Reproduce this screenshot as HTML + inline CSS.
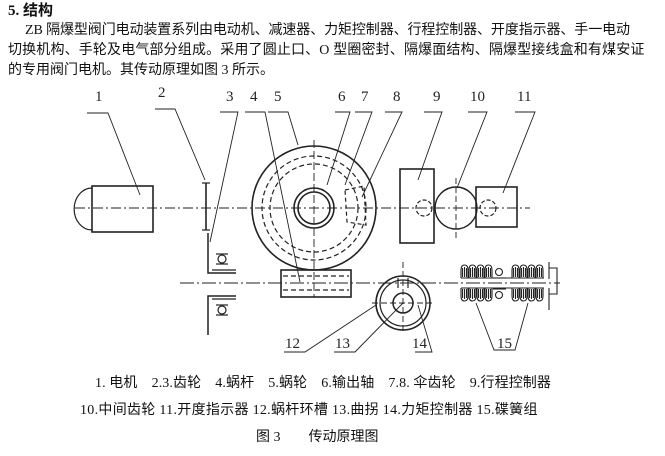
<!DOCTYPE html>
<html><head><meta charset="utf-8"><style>
body{margin:0;width:665px;height:456px;background:#fff;position:relative;overflow:hidden;font-family:"Liberation Serif","Noto Sans CJK SC",serif;color:#111}
.t{position:absolute;white-space:nowrap;font-size:14px;line-height:20px}
svg{position:absolute;left:0;top:0}
svg text{font-family:"Liberation Serif",serif;font-size:15px;fill:#222}
</style></head><body>
<div class="t" style="left:8px;top:1px;font-weight:bold;font-size:15px">5. 结构</div>
<div class="t" style="left:25px;top:21px;letter-spacing:-0.1px">ZB 隔爆型阀门电动装置系列由电动机、减速器、力矩控制器、行程控制器、开度指示器、手一电动</div>
<div class="t" style="left:8px;top:41px;letter-spacing:0.15px">切换机构、手轮及电气部分组成。采用了圆止口、O 型圈密封、隔爆面结构、隔爆型接线盒和有煤安证</div>
<div class="t" style="left:8px;top:61px">的专用阀门电机。其传动原理如图 3 所示。</div>
<svg width="665" height="456" viewBox="0 0 665 456" fill="none" stroke="#222" stroke-width="1.2">
<defs>
<g id="bt"><path d="M0 14 L0 6 Q0 1 3.5 1 Q7 1 7 6 L7 14"/><line x1="1.5" y1="4" x2="1.5" y2="13"/><line x1="3.5" y1="3" x2="3.5" y2="13"/><line x1="5.5" y1="4" x2="5.5" y2="13"/></g>
<g id="bb"><path d="M0 0 L0 8 Q0 13 3.5 13 Q7 13 7 8 L7 0"/><line x1="1.5" y1="1" x2="1.5" y2="10"/><line x1="3.5" y1="1" x2="3.5" y2="11"/><line x1="5.5" y1="1" x2="5.5" y2="10"/></g>
</defs>
<g stroke="#222">
<line x1="75" y1="208" x2="530" y2="208" stroke-dasharray="10,3,2,3" stroke-width="0.9"/>
<line x1="180" y1="283" x2="560" y2="283" stroke-dasharray="14,3,2,3" stroke-width="0.9"/>
<path d="M92 188 A17 20 0 0 0 92 230"/>
<rect x="92" y="186" width="61" height="46" stroke-width="1.6"/>
<line x1="206" y1="183" x2="206" y2="230" stroke-width="1.6"/>
<line x1="202" y1="183" x2="210" y2="183"/><line x1="202" y1="230" x2="210" y2="230"/>
<polyline points="208,233 208,273 236,273" stroke-width="1.5"/>
<line x1="212" y1="270" x2="236" y2="270"/>
<circle cx="222" cy="259" r="4"/><line x1="216" y1="264" x2="228" y2="264"/><line x1="216" y1="254" x2="228" y2="254"/>
<polyline points="208,335 208,296 236,296" stroke-width="1.5"/>
<line x1="212" y1="299" x2="236" y2="299"/>
<circle cx="222" cy="310" r="4"/><line x1="216" y1="305" x2="228" y2="305"/><line x1="216" y1="315" x2="228" y2="315"/>
<circle cx="314" cy="208" r="62" stroke-width="1.6"/>
<circle cx="314" cy="208" r="52" stroke-dasharray="5,3"/>
<circle cx="314" cy="208" r="44" stroke-dasharray="5,3"/>
<circle cx="314" cy="208" r="20" stroke-width="1.6"/>
<circle cx="314" cy="208" r="16" stroke-width="1.6"/>
<line x1="314" y1="140" x2="314" y2="297" stroke-dasharray="8,3" stroke-width="0.9"/>
<path d="M345 190 L364 186 L366 225 L347 222 Z" stroke-dasharray="4,3"/>
<rect x="281" y="270" width="70" height="27" stroke-width="1.6"/>
<line x1="283" y1="276" x2="349" y2="276" stroke-dasharray="5,3"/>
<line x1="283" y1="290" x2="349" y2="290" stroke-dasharray="5,3"/>
<rect x="400" y="169" width="34" height="74" stroke-width="1.6"/>
<circle cx="424" cy="208" r="8" stroke-dasharray="4,2"/>
<circle cx="456" cy="208" r="21" stroke-width="1.4"/>
<line x1="456" y1="178" x2="456" y2="240" stroke-dasharray="6,3" stroke-width="0.9"/>
<rect x="476" y="187" width="41" height="40" stroke-width="1.6"/>
<circle cx="488" cy="208" r="8" stroke-dasharray="4,2"/>
<circle cx="403" cy="303" r="27" stroke-width="1.6"/>
<circle cx="403" cy="303" r="23"/>
<circle cx="403" cy="303" r="10" stroke-width="1.5"/>
<line x1="403" y1="262" x2="403" y2="332" stroke-dasharray="6,3" stroke-width="0.9"/>
<line x1="372" y1="303" x2="432" y2="303" stroke-dasharray="6,3" stroke-width="0.9"/>
<line x1="398" y1="278" x2="398" y2="288"/><line x1="408" y1="278" x2="408" y2="288"/>
<g stroke-width="1.1">
<use href="#bt" x="461" y="264"/><use href="#bt" x="469" y="264"/><use href="#bt" x="477" y="264"/><use href="#bt" x="485" y="264"/>
<use href="#bb" x="461" y="288"/><use href="#bb" x="469" y="288"/><use href="#bb" x="477" y="288"/><use href="#bb" x="485" y="288"/>
<circle cx="499" cy="272" r="3.5"/><line x1="493" y1="278" x2="506" y2="278"/>
<circle cx="499" cy="295" r="3.5"/><line x1="493" y1="289" x2="506" y2="289"/>
<use href="#bt" x="512" y="264"/><use href="#bt" x="520" y="264"/><use href="#bt" x="528" y="264"/><use href="#bt" x="536" y="264"/>
<use href="#bb" x="512" y="288"/><use href="#bb" x="520" y="288"/><use href="#bb" x="528" y="288"/><use href="#bb" x="536" y="288"/>
<line x1="461" y1="278" x2="544" y2="278"/><line x1="461" y1="288" x2="544" y2="288"/>
<line x1="549" y1="262" x2="549" y2="279"/><polyline points="549,268 557,268 557,294 549,294"/>
<line x1="549" y1="288" x2="549" y2="310"/>
</g>
<g stroke-width="0.9">
<polyline points="87,113 108,113 140,195"/>
<polyline points="155,109 175,109 205,180"/>
<polyline points="220,112 238,112 210,242"/>
<polyline points="245,112 265,112 300,282"/>
<polyline points="268,112 288,112 298,145"/>
<polyline points="335,112 350,112 327,185"/>
<polyline points="355,112 372,112 345,185"/>
<polyline points="385,112 402,112 362,197"/>
<polyline points="424,112 442,112 418,180"/>
<polyline points="468,112 487,112 457,188"/>
<polyline points="515,112 535,112 503,193"/>
<polyline points="284,352 305,352 376,305"/>
<polyline points="334,352 355,352 403,303"/>
<polyline points="415,352 432,352 418,305"/>
<polyline points="476,303 494,350 515,350 528,303"/>
</g>
</g>
<g stroke="none">
<text x="95" y="101">1</text><text x="158" y="97">2</text><text x="226" y="101">3</text><text x="250" y="101">4</text><text x="274" y="101">5</text>
<text x="338" y="101">6</text><text x="361" y="101">7</text><text x="393" y="101">8</text><text x="433" y="101">9</text>
<text x="470" y="101">10</text><text x="517" y="101">11</text>
<text x="285" y="348">12</text><text x="335" y="348">13</text><text x="412" y="348">14</text><text x="497" y="348">15</text>
</g>
</svg>
<div class="t" style="left:95px;top:374px;letter-spacing:0.1px">1. 电机　2.3.齿轮　4.蜗杆　5.蜗轮　6.输出轴　7.8. 伞齿轮　9.行程控制器</div>
<div class="t" style="left:80px;top:401px;letter-spacing:0.3px">10.中间齿轮  11.开度指示器  12.蜗杆环槽  13.曲拐 14.力矩控制器 15.碟簧组</div>
<div class="t" style="left:256px;top:428px">图 3　　传动原理图</div>
</body></html>
